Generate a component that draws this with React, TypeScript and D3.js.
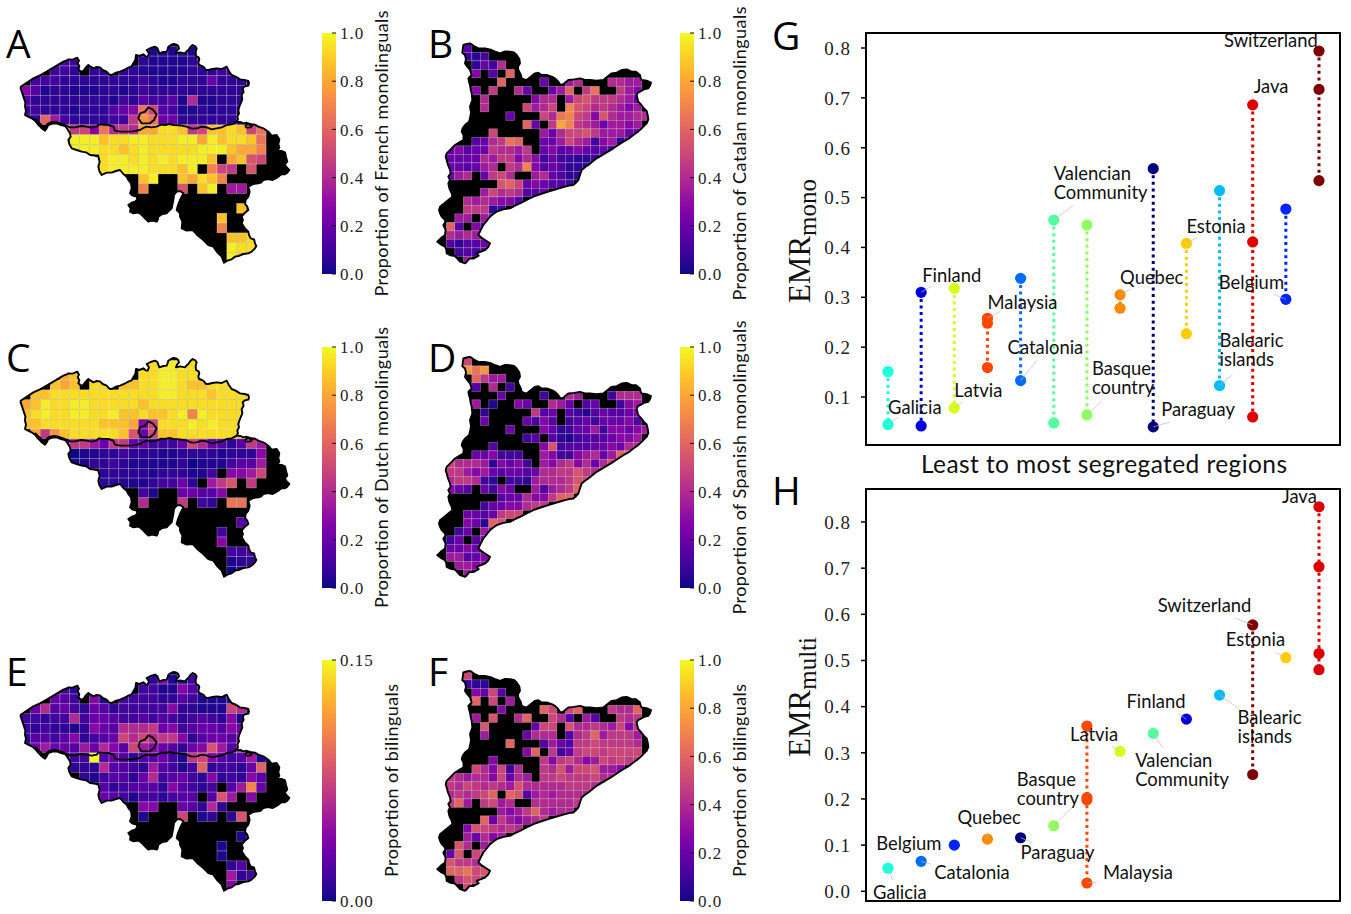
import React from "react";
import * as d3 from "d3";

// ---- cell values: each letter is one shade read from the map, "." = no data (black land)
type Row = [number, string];
const shadeLetters = "abcdefghijklmnopqrstu";
const shadeValues = [0, .03, .06, .1, .15, .2, .27, .34, .4, .45, .5, .55, .6, .65, .7, .75, .8, .87, .93, .97, 1];
const frenchRows: Row[] = [[13,"bbbbb"],[4,"dd......cbbbbcc"],[3,"ddc.cc.ccbbbbbcccdc"],[1,"dddccccccccdcbbcccfcccc"],[0,"gebccbbbccbcdcccccccccc"],[0,"eccccccccbdceddebibbccc"],[0,"ddcccbcccefgnkedbbcbccc"],[1,"cmhdccccddjpnffccccccc"],[4,"pjkgnijiqqssrjkrrsrkn"],[5,"tttrssttsssttqtrssrn"],[5,"tttssrstsssssttt".concat("rqqo")],[8,"sttstststttr.qrlk"],[8,"sttttsssrt.okj.l"],[12,"rt..rqsro"],[12,"o...l.rt.hh"],[0,""],[22,"r"],[20,"r"],[20,"o"],[21,"rrs"],[21,"tss"],[21,"ts"]];
const dutchRows: Row[] = [[13,"sttts"],[4,"qr......ssttsss"],[3,"rqr.ss.rrssttsrrsss"],[1,"rrsssssssssssttsssrssss"],[0,"qrtssttsssssrssssssssss"],[0,"rstssttsstrrsrrstotssss"],[0,"rrssssssrrrqgksssts"+"tsss"],[1,"qjprsssssrlfkrrssssssr"],[4,"fjjhfjjffdddfkifecejh"],[5,"abbccdcccbbccccbcccg"],[5,"bbccdcbbbbbcabbbdeeh"],[8,"cccccbcccbbd.gghk"],[8,"ccbbbcddfc.hjl.j"],[12,"db..ffeeg"],[12,"i...j.dc.nn"],[0,""],[22,"e"],[20,"d"],[20,"g"],[21,"dde"],[21,"bcc"],[21,"ac"]];
const bilingualBeRows: Row[] = [[13,"cgbcd"],[4,"dc......ddbbgec"],[3,"fed.gb.ddddccedbbbc"],[1,"fiefdcfecdddddgccbbbkic"],[0,"ddcddidffeddededcdedcgb"],[0,"dcdccbcgfeiiijfgdeffegf"],[0,"ceedegcdefkikijjgcef"+"feg"],[1,"fhffehfigekhgfecfglheh"],[4,"ddduefeceefdbjkgedehb"],[5,"cccieedchedbdmcddcfm"],[6,"cbdeecfidefdcgcdcge"],[8,"ecdeeecgedcd.ehof"],[8,"fedbddcdee.elh.g"],[12,"gg..fecic"],[12,"b...k.bc.cl"],[0,""],[22,"b"],[20,"b"],[20,"b"],[21,"ce"],[21,"hcd"],[21,"g"]];
const catalanRows: Row[] = [[2,"e"],[2,"dcd"],[3,"cfdi"],[3,"g.e.m"],[6,"m....f..hi...iihh"],[3,"g.j..if..fhm.jn..jhg"],[4,"i.....gii.hkljjjihf"],[4,"i....khik.olkijihgh"],[7,"f...kinokjglihhii"],[9,"mf.jqojihfhhgh"],[5,"k.....hfikkljhhhff"],[3,"efijnm..ffhkihdghcd"],[0,"fgeffjiihj.fgefgfefd"],[0,"ffffihjjgigdfddccdd"],[0,"ffefhi.jiogefecccc"],[0,"fhi.fjki..hifecc"],[6,"lmkfgfeed"],[4,"hkijieef"],[2,"ihihgge"],[2,"jjjcd"],[1,"hh.hg"],[0,"me.ge"],[0,"ihih"],[0,"eceef"],[1,"dede"],[2,"h"]];
const spanishRows: Row[] = [[2,"k"],[2,"pnp"],[3,"mjhh"],[3,"e.i.d"],[6,"f....d..ih...diii"],[3,"h.b..gf..ihf.ef..dgh"],[4,"c.....jef.edbefeefg"],[4,"f....fdge.defdfffge"],[7,"f...gfcdffhdggfgh"],[9,"de.ecbdeeefggh"],[5,"e.....gldeeeffgfii"],[3,"ffgddd..hgddghifhmm"],[0,"kiiihcgfgd.hgijgifik"],[0,"jjhghfeffefiijjljij"],[0,"ijjidc.ddchiiijlk"],[0,"gfe.fdgf..hehijm"],[6,"effiggjmm"],[4,"dffggijj"],[2,"ffefjkk"],[2,"gfcml"],[1,"df.hg"],[0,"df.eg"],[0,"ffgf"],[0,"hhefg"],[1,"hhgg"],[2,"h"]];
const bilingualCaRows: Row[] = [[2,"k"],[2,"dcc"],[3,"gfke"],[3,"m.k.h"],[6,"g....mk.km...jiim"],[3,"h.l..im..kie.he..jij"],[4,"l.....fkk.liijihkgj"],[4,"h....fiii.eijmhjjjh"],[7,"m...ehfejjkjjjji"],[9,"gm.jdfjkkjkkkk"],[5,"g.....jgjkighkjkjj"],[3,"kigkdi..jilhkklhhg"],[0,"jihiigkfih.jjkjjjkii"],[0,"jikjijihliiiiijjji"],[0,"ijijkm.mlehihiiii"],[0,"jmh.jkhi..iiiiij"],[6,"hghjmihii"],[4,"mfjhghij"],[2,"glkjiji"],[2,"hfigh"],[1,"li.hi"],[0,"fl.kk"],[0,"ljji"],[0,"mmnkl"],[1,"jlkk"],[2,"k"]];

// ---- outlines, in map units
type P = [number, number];
const belgiumOutline: P[] = [[62,200],[80,188],[100,175],[120,166],[140,155],[165,140],[190,125],[200,121],[205,118],[218,119],[232,113],[237,122],[233,130],[238,139],[235,148],[243,155],[250,153],[257,143],[265,135],[272,140],[280,145],[290,141],[300,142],[308,150],[320,155],[327,163],[335,165],[348,158],[360,155],[372,150],[385,143],[395,139],[400,130],[406,120],[408,105],[418,108],[430,103],[437,109],[443,110],[447,100],[440,90],[452,84],[465,80],[472,84],[475,92],[478,100],[490,96],[500,95],[503,87],[505,80],[514,74],[522,72],[530,74],[535,78],[537,86],[531,92],[528,100],[540,97],[555,100],[560,94],[565,90],[572,80],[578,75],[585,78],[590,85],[587,96],[588,108],[596,112],[598,118],[595,127],[597,135],[606,138],[612,142],[618,150],[625,150],[637,147],[650,145],[665,147],[680,140],[686,152],[695,165],[707,170],[720,178],[733,180],[745,183],[747,190],[745,197],[735,199],[728,205],[731,215],[725,225],[727,238],[722,250],[718,260],[715,270],[717,280],[712,290],[714,298],[710,305],[722,306],[730,310],[740,308],[750,315],[763,313],[775,320],[790,325],[805,335],[815,347],[830,345],[838,358],[835,372],[838,383],[832,392],[845,393],[855,397],[858,410],[862,425],[855,432],[858,440],[868,450],[862,458],[855,463],[845,462],[835,470],[827,475],[818,480],[804,477],[790,480],[783,488],[775,490],[760,492],[745,500],[749,515],[745,530],[737,540],[735,552],[742,560],[745,570],[735,578],[725,590],[729,600],[725,610],[735,625],[745,635],[747,645],[752,655],[762,658],[765,670],[769,678],[765,685],[755,695],[745,700],[730,702],[715,708],[705,710],[695,718],[682,722],[672,728],[668,718],[665,710],[652,697],[640,680],[625,675],[610,660],[595,648],[578,630],[560,632],[545,625],[547,605],[540,590],[540,580],[530,570],[534,555],[540,540],[545,530],[550,520],[540,513],[530,515],[522,525],[520,540],[515,565],[507,572],[500,580],[487,582],[475,590],[473,600],[470,605],[457,602],[445,605],[437,597],[430,590],[422,582],[415,578],[400,580],[390,575],[392,565],[385,555],[395,548],[405,545],[412,538],[410,530],[398,527],[390,520],[395,505],[393,490],[385,480],[380,470],[370,462],[360,450],[348,453],[335,458],[320,458],[305,465],[298,453],[295,440],[299,425],[295,410],[283,407],[270,405],[258,397],[245,395],[230,390],[215,385],[208,372],[205,360],[212,350],[210,340],[202,327],[195,318],[183,315],[170,310],[157,311],[145,315],[140,325],[135,332],[128,327],[125,325],[118,317],[115,315],[105,302],[95,295],[84,290],[75,285],[78,272],[75,260],[76,247],[72,235],[67,220],[62,205]];
const flandersBorder: P[] = [[105,297],[118,310],[125,316],[135,322],[142,312],[150,308],[162,306],[175,308],[185,312],[195,315],[210,322],[225,322],[243,318],[260,320],[275,323],[290,320],[296,313],[305,314],[325,315],[335,318],[340,320],[345,332],[360,335],[375,335],[398,334],[420,330],[432,323],[440,320],[455,322],[470,320],[483,314],[495,315],[508,312],[520,315],[540,316],[560,320],[575,326],[590,325],[605,320],[620,322],[635,328],[650,325],[665,322],[680,315],[695,313],[710,305]];
const liegeEnclave: P[] = [[735,318],[745,310],[758,314],[752,322],[740,323],[735,318]];
const brusselsOutline: P[] = [[420,280],[435,275],[445,262],[458,268],[470,283],[462,300],[450,310],[425,310],[415,295],[420,280]];
const catalunyaOutline: P[] = [[130,75],[140,72],[150,70],[162,78],[175,85],[195,85],[215,90],[228,96],[240,100],[255,94],[270,95],[282,97],[290,105],[298,117],[300,130],[294,140],[295,150],[302,163],[305,175],[313,178],[320,180],[332,170],[345,160],[355,158],[365,165],[380,165],[395,170],[405,175],[415,185],[420,193],[425,195],[433,190],[445,180],[462,178],[480,175],[495,180],[510,180],[530,182],[550,180],[560,172],[575,160],[590,158],[605,150],[620,148],[635,155],[648,155],[660,165],[662,175],[665,180],[680,182],[693,188],[690,197],[685,205],[672,208],[660,215],[654,218],[650,225],[652,235],[655,245],[664,255],[672,265],[680,273],[683,285],[685,298],[680,310],[673,317],[665,325],[652,337],[640,345],[625,357],[610,365],[595,375],[580,385],[555,400],[530,415],[517,425],[505,435],[495,442],[485,450],[480,465],[475,480],[468,488],[460,495],[447,497],[435,500],[410,507],[385,515],[362,522],[340,530],[320,540],[300,550],[285,557],[270,565],[250,568],[230,575],[220,582],[210,590],[200,603],[190,615],[182,630],[175,645],[185,653],[195,660],[210,670],[204,682],[195,690],[183,695],[170,700],[176,707],[160,716],[148,716],[138,728],[135,730],[127,727],[120,725],[112,716],[105,708],[92,706],[80,700],[79,690],[75,680],[62,673],[52,665],[62,655],[75,645],[77,630],[70,615],[76,607],[75,600],[65,590],[60,580],[57,570],[60,560],[73,550],[85,540],[97,530],[95,520],[88,505],[85,490],[90,480],[85,470],[92,460],[90,450],[84,435],[80,420],[77,410],[80,400],[92,388],[105,375],[118,367],[130,360],[131,347],[125,335],[128,325],[135,315],[147,305],[150,295],[153,278],[150,260],[157,240],[155,220],[152,208],[150,195],[147,185],[145,175],[155,165],[150,150],[142,140],[135,130],[138,118],[135,105],[127,98],[128,90]];

// ---- scatter data
const gRegions = ["Galicia","Finland","Latvia","Malaysia","Catalonia","Valencian Community","Basque country","Quebec","Paraguay","Estonia","Balearic islands","Java","Belgium","Switzerland"];
const gColors = ["#1affdc","#0000d8","#d6ff1e","#ff4700","#006bff","#55ff9f","#90ff5f","#ff8a00","#00007f","#ffcd00","#00bbff","#dd0000","#0024ff","#7f0000"];
const gValues = [[.151,.045],[.31,.042],[.318,.078],[.258,.248,.159],[.338,.133],[.455,.048],[.445,.064],[.305,.278],[.558,.04],[.408,.227],[.514,.123],[.686,.411,.06],[.477,.296],[.794,.717,.534]];
const hRegions = ["Galicia","Catalonia","Belgium","Quebec","Paraguay","Basque country","Malaysia","Latvia","Valencian Community","Finland","Balearic islands","Switzerland","Estonia","Java"];
const hColors = ["#1affdc","#006bff","#0024ff","#ff8a00","#00007f","#90ff5f","#ff4700","#d6ff1e","#55ff9f","#0000d8","#00bbff","#7f0000","#ffcd00","#dd0000"];
const hValues = [[.05],[.065],[.1],[.113],[.116],[.142],[.358,.203,.198,.018],[.303],[.342],[.373],[.425],[.577,.253],[.506],[.833,.703,.515,.48]];

type Lab = { lines: string[]; col: number; val: number; dx: number; dy: number; lx?: number; ly?: number };
const gLabels: Lab[] = [
  { lines: ["Galicia"], col: 0, val: .045, dx: 0, dy: -17, lx: 10, ly: -7 },
  { lines: ["Finland"], col: 1, val: .31, dx: 1, dy: -17, lx: 10, ly: -6 },
  { lines: ["Latvia"], col: 2, val: .078, dx: 0, dy: -17, lx: 8, ly: -6 },
  { lines: ["Malaysia"], col: 3, val: .258, dx: 0, dy: -16, lx: 13, ly: -7 },
  { lines: ["Catalonia"], col: 4, val: .133, dx: -13, dy: -33, lx: 16, ly: -20 },
  { lines: ["Valencian", "Community"], col: 5, val: .455, dx: 0, dy: -46, lx: 20, ly: -15 },
  { lines: ["Basque", "country"], col: 6, val: .064, dx: 5, dy: -46, lx: 15, ly: -14 },
  { lines: ["Quebec"], col: 7, val: .305, dx: 0, dy: -17, lx: 11, ly: -6 },
  { lines: ["Paraguay"], col: 8, val: .04, dx: 8, dy: -17, lx: 17, ly: -5 },
  { lines: ["Estonia"], col: 9, val: .408, dx: 0, dy: -17, lx: 11, ly: -6 },
  { lines: ["Balearic", "islands"], col: 10, val: .123, dx: 0, dy: -45, lx: 13, ly: -11 },
  { lines: ["Java"], col: 11, val: .686, dx: 1, dy: -18 },
  { lines: ["Belgium"], col: 12, val: .296, dx: -67, dy: -17, lx: -12, ly: -5 },
  { lines: ["Switzerland"], col: 13, val: .794, dx: -95, dy: -10 },
];
const hLabels: Lab[] = [
  { lines: ["Java"], col: 13, val: .833, dx: -37, dy: -10 },
  { lines: ["Switzerland"], col: 11, val: .577, dx: -95, dy: -19, lx: -18, ly: -7 },
  { lines: ["Estonia"], col: 12, val: .506, dx: -60, dy: -18, lx: -10, ly: -5 },
  { lines: ["Finland"], col: 9, val: .373, dx: -60, dy: -18, lx: -8, ly: -5 },
  { lines: ["Balearic", "islands"], col: 10, val: .425, dx: 18, dy: 22, lx: 20, ly: 14 },
  { lines: ["Latvia"], col: 7, val: .303, dx: -50, dy: -17, lx: -8, ly: -5 },
  { lines: ["Valencian", "Community"], col: 8, val: .342, dx: -18, dy: 27, lx: 10, ly: 15 },
  { lines: ["Basque", "country"], col: 5, val: .142, dx: -37, dy: -46, lx: 18, ly: -18 },
  { lines: ["Quebec"], col: 3, val: .113, dx: -30, dy: -22, lx: 0, ly: -7 },
  { lines: ["Belgium"], col: 2, val: .1, dx: -78, dy: -2 },
  { lines: ["Paraguay"], col: 4, val: .116, dx: 0, dy: 15, lx: 12, ly: 5 },
  { lines: ["Malaysia"], col: 6, val: .018, dx: 16, dy: -10, lx: 10, ly: -1 },
  { lines: ["Catalonia"], col: 1, val: .065, dx: 13, dy: 11, lx: 10, ly: 3 },
  { lines: ["Galicia"], col: 0, val: .05, dx: -15, dy: 24, lx: 5, ly: 12 },
];

const SANS = "Lato, 'Open Sans', sans-serif";
const SERIF = "'Liberation Serif', serif";

const letterValue = (ch: string) => shadeValues[shadeLetters.indexOf(ch)];

function MapPanel({ id, rows, outline, ox, oy, x0, y0, step, extras }: { id: string; rows: Row[]; outline: P[]; ox: number; oy: number; x0: number; y0: number; step: number; extras?: P[][] }) {
  const sx = d3.scaleLinear().domain([0, 1200]).range([ox, ox + 400]);
  const sy = d3.scaleLinear().domain([0, 1200]).range([oy, oy + 400]);
  const line = d3.line<P>().x(d => sx(d[0])).y(d => sy(d[1]));
  const color = (v: number) => d3.interpolatePlasma(v);
  const d = line(outline) + "Z";
  const cells: { c: number; r: number; v: number }[] = [];
  rows.forEach(([start, s], r) => {
    for (let i = 0; i < s.length; i++) if (s[i] !== ".") cells.push({ c: start + i, r, v: letterValue(s[i]) });
  });
  return (
    <g>
      <clipPath id={id}><path d={d} /></clipPath>
      <path d={d} fill="#000" />
      <g clipPath={`url(#${id})`}>
        {cells.map((k, i) => (
          <rect key={i} x={sx(x0 + k.c * step)} y={sy(y0 + k.r * step)} width={sx(step) - sx(0)} height={sy(step) - sy(0)} fill={color(k.v)} stroke="#fff" strokeOpacity={0.42} strokeWidth={0.6} />
        ))}
      </g>
      <path d={d} fill="none" stroke="#000" strokeWidth={1.9} strokeLinejoin="round" />
      {(extras || []).map((e, i) => <path key={i} d={line(e) || ""} fill="none" stroke="#000" strokeWidth={1.9} strokeLinejoin="round" />)}
    </g>
  );
}

function Colorbar({ x, y0, y1, label, labelX, labelLen, ticks, fmt, domainMax }: { x: number; y0: number; y1: number; label: string; labelX: number; labelLen: number; ticks: number[]; fmt: (v: number) => string; domainMax: number }) {
  const id = "cb" + Math.round(x) + "_" + Math.round(y0);
  const y = d3.scaleLinear().domain([0, domainMax]).range([y1, y0]);
  const stops = d3.range(0, 1.0001, 0.05);
  return (
    <g>
      <defs>
        <linearGradient id={id} x1="0" y1="1" x2="0" y2="0">
          {stops.map(s => <stop key={s} offset={s} stopColor={d3.interpolatePlasma(s)} />)}
        </linearGradient>
      </defs>
      <rect x={x} y={y0} width={14} height={y1 - y0} fill={`url(#${id})`} />
      {ticks.map(t => (
        <g key={t}>
          <line x1={x + 10} x2={x + 14} y1={y(t)} y2={y(t)} stroke="#111" strokeWidth={1} />
          <text x={x + 18} y={y(t)} dy="0.36em" fontFamily={SERIF} fontSize={17} letterSpacing={1} fill="#222">{fmt(t)}</text>
        </g>
      ))}
      <text transform={`translate(${labelX},${(y0 + y1) / 2}) rotate(-90)`} textAnchor="middle" dy="0.35em" fontFamily={SANS} fontSize={18} textLength={labelLen} lengthAdjust="spacing" fill="#111">{label}</text>
    </g>
  );
}

function Scatter({ top, bottom, yTop, yBottom, ticks, values, colors, labels, sub }: { top: number; bottom: number; yTop: [number, number]; yBottom: [number, number]; ticks: number[]; values: number[][]; colors: string[]; labels: Lab[]; sub: string }) {
  const left = 866, right = 1340;
  const x = d3.scaleLinear().domain([0, 13]).range([888, 1319]);
  const y = d3.scaleLinear().domain([yBottom[0], yTop[0]]).range([yBottom[1], yTop[1]]);
  return (
    <g>
      {values.map((vals, i) => vals.length > 1 ? (
        <line key={i} x1={x(i)} x2={x(i)} y1={y(d3.max(vals)!)} y2={y(d3.min(vals)!)} stroke={colors[i]} strokeWidth={3} strokeDasharray="3 3.6" />
      ) : null)}
      {values.map((vals, i) => vals.map((v, j) => <circle key={i + "-" + j} cx={x(i)} cy={y(v)} r={5.6} fill={colors[i]} />))}
      {labels.map((l, i) => {
        const px = x(l.col), py = y(l.val);
        return (
          <g key={i}>
            {l.lx !== undefined && <line x1={px} y1={py} x2={px + l.lx} y2={py + (l.ly || 0)} stroke="#bbb" strokeWidth={0.7} />}
            {l.lines.map((t, k) => (
              <text key={k} x={px + l.dx} y={py + l.dy + k * 19} dy="0.35em" fontFamily={SANS} fontSize={18.4} fill="#111">{t}</text>
            ))}
          </g>
        );
      })}
      <rect x={left} y={top} width={right - left} height={bottom - top} fill="none" stroke="#000" strokeWidth={2} />
      {ticks.map(t => (
        <g key={t}>
          <line x1={left - 5} x2={left} y1={y(t)} y2={y(t)} stroke="#000" strokeWidth={1.5} />
          <text x={left - 15} y={y(t)} dy="0.36em" textAnchor="end" fontFamily={SERIF} fontSize={19} letterSpacing={1} fill="#222">{t.toFixed(1)}</text>
        </g>
      ))}
      <text transform={`translate(810,${(top + bottom) / 2 + 2}) rotate(-90)`} textAnchor="middle" fontFamily={SERIF} fill="#111">
        <tspan fontSize={31}>EMR</tspan><tspan fontSize={25} dy={6}>{sub}</tspan>
      </text>
    </g>
  );
}

const Letter = ({ t, x, y }: { t: string; x: number; y: number }) => (
  <text x={x} y={y} fontFamily="'Open Sans', sans-serif" fontSize={39} fill="#000">{t}</text>
);

const ticks10 = [0, .2, .4, .6, .8, 1];
const f1 = (v: number) => v.toFixed(1);
const f2 = (v: number) => v.toFixed(2);
const gTicks = [.1, .2, .3, .4, .5, .6, .7, .8];
const hTicks = [0, .1, .2, .3, .4, .5, .6, .7, .8];

export default function App() {
  const be = { outline: belgiumOutline, ox: 0, x0: 62, y0: 79, step: 29.45, extras: [flandersBorder, brusselsOutline, liegeEnclave] };
  const ca = { outline: catalunyaOutline, ox: 420, x0: 79, y0: 71.5, step: 25.5 };
  return (
    <svg width={1351} height={914} style={{ position: "absolute", left: 0, top: 0, background: "#fff" }}>
      <MapPanel id="mA" rows={frenchRows} {...be} oy={20} />
      <MapPanel id="mC" rows={dutchRows} {...be} oy={334} />
      <MapPanel id="mE" rows={bilingualBeRows} {...be} oy={648} />
      <MapPanel id="mB" rows={catalanRows} {...ca} oy={20} />
      <MapPanel id="mD" rows={spanishRows} {...ca} oy={333.5} />
      <MapPanel id="mF" rows={bilingualCaRows} {...ca} oy={647.5} />

      <Colorbar x={322} y0={33} y1={274} label="Proportion of French monolinguals" labelX={382} labelLen={286} ticks={ticks10} fmt={f1} domainMax={1} />
      <Colorbar x={322} y0={347} y1={588} label="Proportion of Dutch monolinguals" labelX={382} labelLen={281} ticks={ticks10} fmt={f1} domainMax={1} />
      <Colorbar x={322} y0={660} y1={901} label="Proportion of bilinguals" labelX={392} labelLen={193} ticks={[0, .15]} fmt={f2} domainMax={.15} />
      <Colorbar x={680} y0={33} y1={274} label="Proportion of Catalan monolinguals" labelX={740} labelLen={294} ticks={ticks10} fmt={f1} domainMax={1} />
      <Colorbar x={680} y0={347} y1={588} label="Proportion of Spanish monolinguals" labelX={740} labelLen={294} ticks={ticks10} fmt={f1} domainMax={1} />
      <Colorbar x={680} y0={660} y1={901} label="Proportion of bilinguals" labelX={740} labelLen={193} ticks={ticks10} fmt={f1} domainMax={1} />

      <Scatter top={33} bottom={445} yTop={[.8, 48]} yBottom={[.1, 397]} ticks={gTicks} values={gValues} colors={gColors} labels={gLabels} sub="mono" />
      <Scatter top={489} bottom={901} yTop={[.8, 522]} yBottom={[0, 891.3]} ticks={hTicks} values={hValues} colors={hColors} labels={hLabels} sub="multi" />
      <text x={1104} y={464} dy="0.35em" textAnchor="middle" fontFamily={SANS} fontSize={24.5} textLength={366} lengthAdjust="spacing" fill="#111">Least to most segregated regions</text>

      <Letter t="A" x={6} y={58} />
      <Letter t="B" x={428} y={58} />
      <Letter t="C" x={6} y={372} />
      <Letter t="D" x={428} y={372} />
      <Letter t="E" x={6} y={686} />
      <Letter t="F" x={428} y={686} />
      <Letter t="G" x={772} y={50} />
      <Letter t="H" x={772} y={505} />
    </svg>
  );
}
